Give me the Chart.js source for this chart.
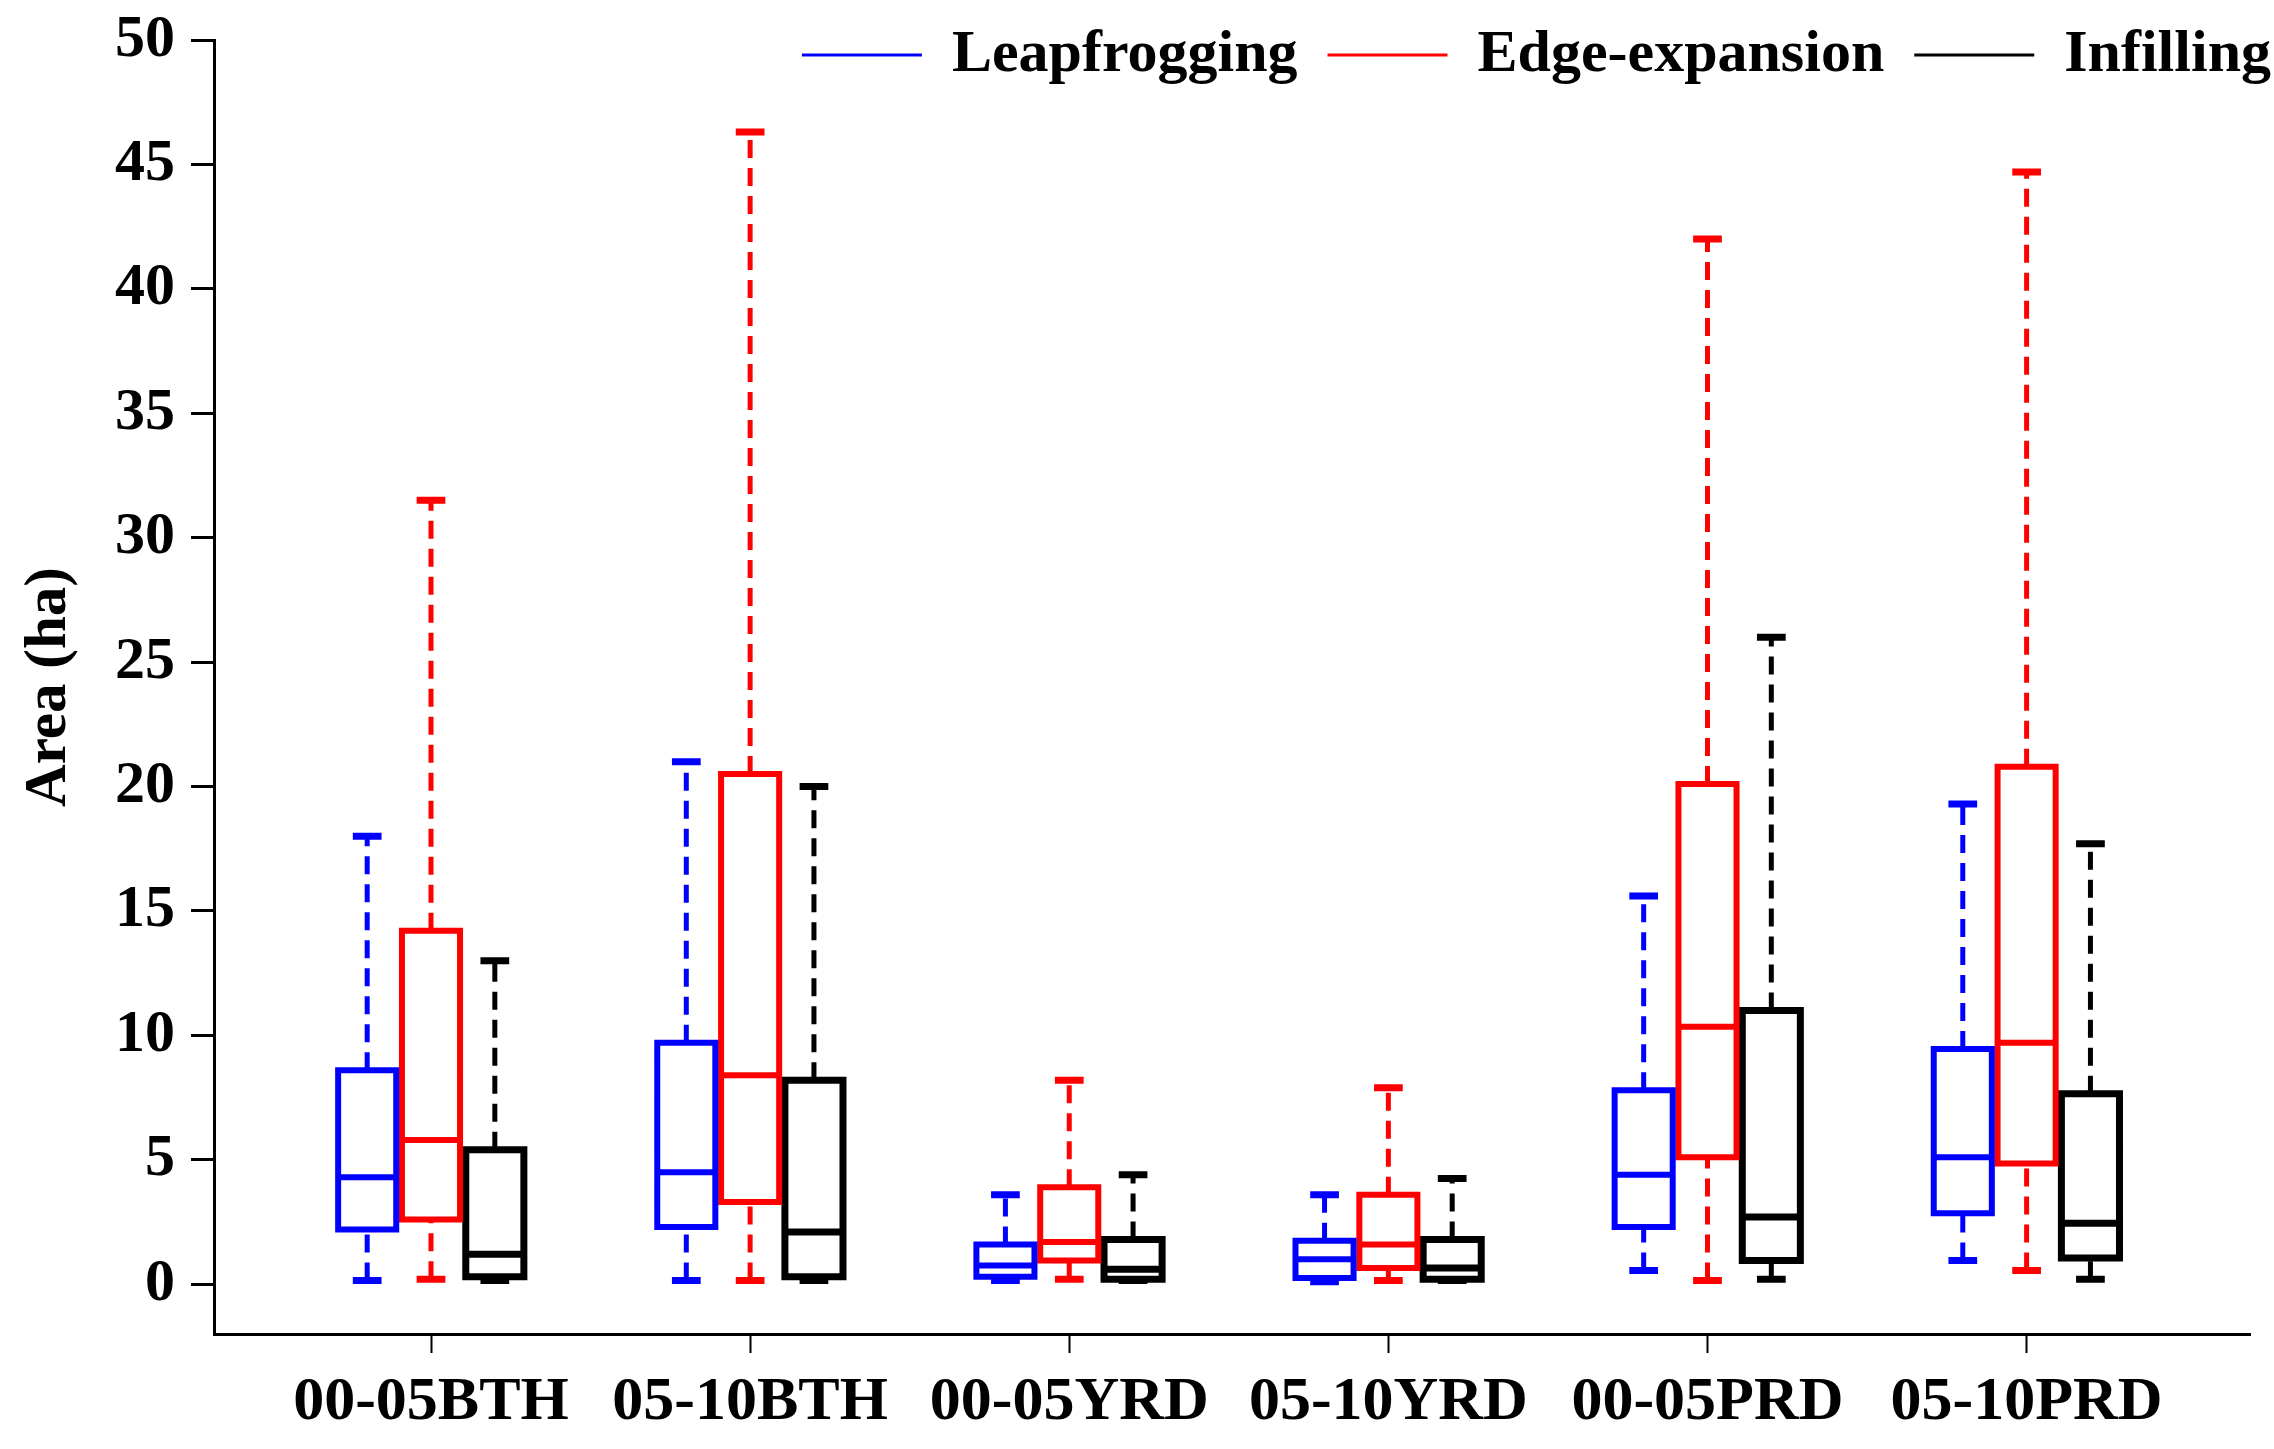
<!DOCTYPE html>
<html><head><meta charset="utf-8">
<script src="https://cdn.jsdelivr.net/npm/chart.js@4.4.1/dist/chart.umd.min.js"></script>
<style>html,body{margin:0;padding:0;background:#fff;} #wrap{width:2274px;height:1449px;position:relative;}</style>
</head><body><div id="wrap"><canvas id="c"></canvas></div>
<script>
// ---- data ----
const categories = ['00-05BTH','05-10BTH','00-05YRD','05-10YRD','00-05PRD','05-10PRD'];
const seriesNames = ['Leapfrogging','Edge-expansion','Infilling'];
const yTicks = [0,5,10,15,20,25,30,35,40,45,50];
// each entry: [lower whisker, Q1, median, Q3, upper whisker]
const leapfrogging = [
  [0.15,2.2,4.3,8.6,18.0],
  [0.15,2.3,4.5,9.7,21.0],
  [0.15,0.3,0.75,1.6,3.6],
  [0.1,0.25,1.0,1.75,3.6],
  [0.55,2.3,4.4,7.8,15.6],
  [0.95,2.85,5.1,9.45,19.3]
];
const edgeExpansion = [
  [0.2,2.6,5.8,14.2,31.5],
  [0.15,3.3,8.4,20.5,46.3],
  [0.2,0.95,1.7,3.9,8.2],
  [0.15,0.65,1.6,3.6,7.9],
  [0.15,5.1,10.35,20.1,42.0],
  [0.55,4.85,9.7,20.8,44.7]
];
const infilling = [
  [0.15,0.3,1.2,5.4,13.0],
  [0.15,0.3,2.1,8.2,20.0],
  [0.15,0.2,0.6,1.8,4.4],
  [0.15,0.2,0.65,1.8,4.25],
  [0.2,0.95,2.7,11.0,26.0],
  [0.2,1.05,2.45,7.65,17.7]
];

// ---- styles ----
const seriesStats = [leapfrogging, edgeExpansion, infilling];
const colors = ['#0000FF','#FF0000','#000000'];
const boxWidths = [6,6,7];
const SERIES_OFFSET = 0.2;
const BOX_HALF = 0.091;
const CAP_HALF = 0.045;
const FONT = "'Liberation Serif', 'Times New Roman', serif";
const LEG_DX = 51, LEG_DY = -45;

function gap(x){ return {x:x, y:null}; }
const datasets = [];
seriesStats.forEach((stats, si) => {
  const off = (si - 1) * SERIES_OFFSET;
  const box = [], wh = [], cap = [];
  stats.forEach((s, gi) => {
    const x = gi + 1 + off;
    const [mn, q1, md, q3, mx] = s;
    box.push({x:x-BOX_HALF,y:q1},{x:x+BOX_HALF,y:q1},{x:x+BOX_HALF,y:q3},{x:x-BOX_HALF,y:q3},{x:x-BOX_HALF,y:q1},{x:x+BOX_HALF,y:q1},gap(x));
    box.push({x:x-BOX_HALF,y:md},{x:x+BOX_HALF,y:md},gap(x));
    wh.push({x:x,y:q3},{x:x,y:mx},gap(x),{x:x,y:mn},{x:x,y:q1},gap(x));
    cap.push({x:x-CAP_HALF,y:mx},{x:x+CAP_HALF,y:mx},gap(x),{x:x-CAP_HALF,y:mn},{x:x+CAP_HALF,y:mn},gap(x));
  });
  const common = {showLine:true, pointRadius:0, pointHoverRadius:0, fill:false, tension:0, spanGaps:false, borderColor:colors[si], backgroundColor:colors[si]};
  datasets.push(Object.assign({label:seriesNames[si]+' box', data:box, borderWidth:boxWidths[si], order:0, borderJoinStyle:'miter'}, common));
  datasets.push(Object.assign({label:seriesNames[si]+' cap', data:cap, borderWidth:7, order:1}, common));
  datasets.push(Object.assign({label:seriesNames[si]+' whisker', data:wh, borderWidth:5, borderDash:[18,10], order:2}, common));
});

const legendShift = {
  id:'legendShift',
  beforeLayout(chart){
    const lg = chart.legend;
    if (lg && !lg._patched) {
      const origFit = lg.fit;
      lg.fit = function(){ origFit.call(this); this.height = 0; };
      lg._patched = true;
    }
  },
  afterLayout(chart){
    const lg = chart.legend;
    if (!lg) return;
    lg.top += LEG_DY; lg.bottom = lg.top + 130; lg.height = 130;
    lg.left += LEG_DX; lg.right += LEG_DX;
  }
};

new Chart(document.getElementById('c'), {
  type:'scatter',
  data:{datasets},
  plugins:[legendShift],
  options:{
    responsive:true, maintainAspectRatio:false, animation:false, events:[],
    layout:{padding:{top:40,right:24,left:0,bottom:0}},
    plugins:{
      tooltip:{enabled:false},
      legend:{
        position:'top', align:'end', onClick:null,
        labels:{
          usePointStyle:true, pointStyleWidth:120, padding:30, color:'#000',
          font:{family:FONT, size:60, weight:'bold'},
          generateLabels:() => seriesNames.map((n,i)=>({text:n, strokeStyle:colors[i], fillStyle:colors[i], fontColor:'#000', lineWidth:3, pointStyle:'line', hidden:false, datasetIndex:i*3}))
        }
      }
    },
    scales:{
      x:{
        type:'linear', min:0.32, max:6.70,
        afterBuildTicks:(sc)=>{ sc.ticks = categories.map((c,i)=>({value:i+1})); },
        afterFit:(sc)=>{ sc.height = 115; sc.paddingLeft = 0; sc.paddingRight = 0; },
        grid:{display:true, drawOnChartArea:false, drawTicks:true, tickLength:19, tickColor:'#000', tickWidth:2, color:'#000'},
        border:{display:true, color:'#000', width:3},
        ticks:{color:'#000', padding:13, maxRotation:0, autoSkip:false, font:{family:FONT, size:62, weight:'bold'},
          callback:(v)=>{ const i = Math.round(v)-1; return categories[i] !== undefined ? categories[i] : ''; }}
      },
      y:{
        type:'linear', min:-2, max:50,
        afterBuildTicks:(sc)=>{ sc.ticks = yTicks.map(v=>({value:v})); },
        afterFit:(sc)=>{ sc.width = 214; sc.paddingTop = 0; sc.paddingBottom = 0; },
        grid:{display:true, drawOnChartArea:false, drawTicks:true, tickLength:23, tickColor:'#000', tickWidth:3, color:'#000'},
        border:{display:true, color:'#000', width:3},
        ticks:{color:'#000', padding:16, autoSkip:false, font:{family:FONT, size:60, weight:'bold'}},
        title:{display:true, text:'Area (ha)', color:'#000', padding:{top:14,bottom:0}, font:{family:FONT, size:59, weight:'bold'}}
      }
    }
  }
});
</script></body></html>
